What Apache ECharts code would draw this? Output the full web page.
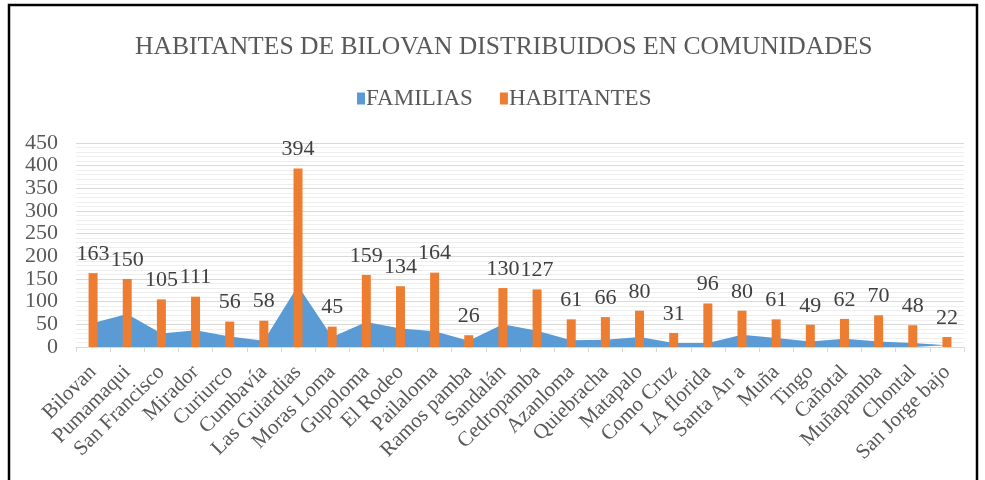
<!DOCTYPE html>
<html>
<head>
<meta charset="utf-8">
<script src="https://cdn.jsdelivr.net/npm/echarts@6/dist/echarts.min.js"></script>
<style>
html,body{margin:0;padding:0;background:#fff;}
#chart{width:985px;height:480px;}
</style>
</head>
<body>
<div id="chart"></div>
<script>
const categories = ["Bilovan","Pumamaqui","San Francisco","Mirador","Curiurco","Cumbavía","Las Guiardias","Moras Loma","Gupoloma","El Rodeo","Pailaloma","Ramos pamba","Sandalán","Cedropamba","Azanloma","Quiebracha","Matapalo","Como Cruz","LA florida","Santa An a","Muña","Tingo","Cañotal","Muñapamba","Chontal","San Jorge bajo"];
const familias = [53,73,30,37,23,14,135,22,55,41,35,14,50,36,15,16,22,9,9,27,20,12,18,12,9,4];
const habitantes = [163,150,105,111,56,58,394,45,159,134,164,26,130,127,61,66,80,31,96,80,61,49,62,70,48,22];
const yTicks = {min:0, max:450, interval:50};

const FONT = '"Liberation Serif","Times New Roman",serif';
const chart = echarts.init(document.getElementById('chart'), null, {renderer:'canvas'});
chart.setOption({
  backgroundColor:'#fff',
  animation:false,
  textStyle:{fontFamily:FONT},
  title:{
    text:'HABITANTES DE BILOVAN DISTRIBUIDOS EN COMUNIDADES',
    left:130, top:29,
    textStyle:{fontFamily:FONT, fontSize:25.6, fontWeight:'normal', color:'#595959'}
  },
  legend:{
    top:82, left:352,
    itemWidth:8, itemHeight:12, itemGap:27,
    textStyle:{fontFamily:FONT, fontSize:23, color:'#595959', padding:[0,0,0,-4]},
    data:[{name:'FAMILIAS', icon:'rect'},{name:'HABITANTES', icon:'rect'}]
  },
  grid:{left:76, right:21, top:143, bottom:133, containLabel:false},
  xAxis:{
    type:'category', data:categories, boundaryGap:true,
    axisLine:{show:true, lineStyle:{color:'#d9d9d9', width:1}},
    axisTick:{show:true, length:5, lineStyle:{color:'#d9d9d9'}},
    axisLabel:{rotate:45, interval:0, fontFamily:FONT, fontSize:21, color:'#595959', margin:22}
  },
  yAxis:{
    type:'value', min:yTicks.min, max:yTicks.max, interval:yTicks.interval,
    axisLine:{show:false}, axisTick:{show:false},
    axisLabel:{fontFamily:FONT, fontSize:22, color:'#595959', margin:18},
    splitLine:{lineStyle:{color:'#d9d9d9', width:1}},
    minorTick:{show:false, splitNumber:5},
    minorSplitLine:{show:true, lineStyle:{color:'#eeeeee', width:1}}
  },
  series:[
    {
      name:'FAMILIAS', type:'line', data:familias, symbol:'none',
      itemStyle:{color:'#5b9bd5'},
      lineStyle:{width:0, color:'#5b9bd5'},
      areaStyle:{color:'#5b9bd5', opacity:1},
      z:2
    },
    {
      name:'HABITANTES', type:'bar', data:habitantes, barWidth:9,
      itemStyle:{color:'#ed7d31'},
      label:{show:true, position:'top', distance:8, fontFamily:FONT, fontSize:22, color:'#404040'},
      z:3
    }
  ],
  graphic:[{
    type:'rect', silent:true, z:100,
    shape:{x:9, y:5, width:968, height:490},
    style:{fill:'none', stroke:'#000', lineWidth:2.5}
  }]
});
</script>
</body>
</html>
